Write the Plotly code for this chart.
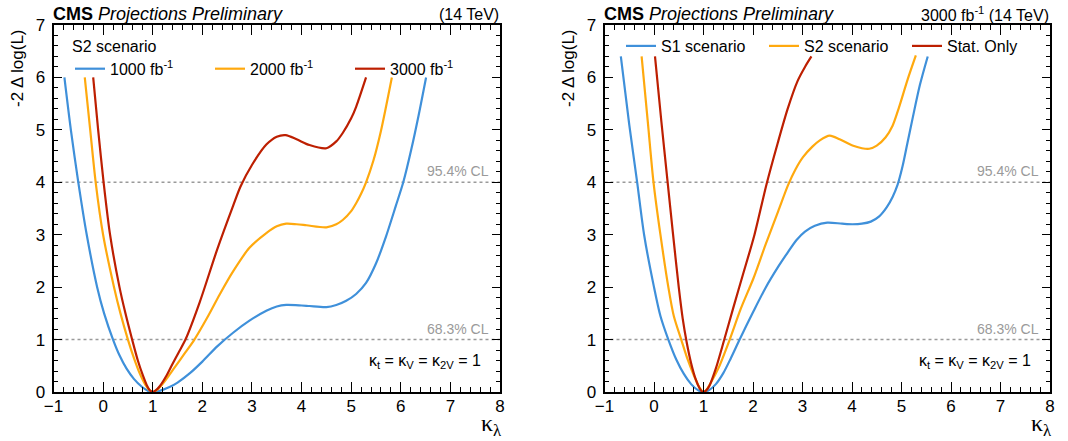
import plotly.graph_objects as go

FONT = "Liberation Sans, Arial, Helvetica, sans-serif"
SERIF = "Liberation Serif, Times New Roman, serif"
BLUE, ORANGE, RED = "#3f90da", "#ffa90e", "#bd1f01"
W, H = 1068, 441

# ---------------- data: left panel (S2 scenario, luminosity scan) ----------------
lumi_labels = ["1000 fb<sup>-1</sup>", "2000 fb<sup>-1</sup>", "3000 fb<sup>-1</sup>"]

k_1000 = [-0.78, -0.65, -0.5, -0.33, -0.12, 0.02, 0.2, 0.33, 0.47, 0.62, 0.78, 0.9, 1.0,
          1.1, 1.2, 1.35, 1.5, 1.75, 2.0, 2.3, 2.62, 2.95, 3.29, 3.5, 3.69, 4.0, 4.16, 4.5,
          4.7, 4.9, 5.1, 5.3, 5.5, 5.7, 5.9, 6.05, 6.21, 6.36, 6.51]
nll_1000 = [6.0, 5.0, 4.0, 3.0, 2.0, 1.5, 1.0, 0.7, 0.45, 0.25, 0.1, 0.025, 0.0,
            0.01, 0.04, 0.1, 0.18, 0.36, 0.58, 0.87, 1.13, 1.36, 1.55, 1.63, 1.66, 1.65, 1.64, 1.62,
            1.66, 1.74, 1.87, 2.08, 2.45, 2.96, 3.55, 4.0, 4.62, 5.28, 6.0]

k_2000 = [-0.37, -0.26, -0.15, 0.0, 0.22, 0.35, 0.5, 0.62, 0.74, 0.85, 0.93, 1.0,
          1.07, 1.17, 1.3, 1.45, 1.64, 1.84, 2.1, 2.35, 2.62, 2.95, 3.29, 3.5, 3.69, 3.9, 4.1,
          4.5, 4.7, 4.83, 5.0, 5.1, 5.2, 5.3, 5.45, 5.6, 5.82]
nll_2000 = [6.0, 5.0, 4.0, 3.0, 2.0, 1.5, 1.0, 0.65, 0.35, 0.14, 0.04, 0.0,
            0.03, 0.12, 0.28, 0.48, 0.73, 1.0, 1.42, 1.86, 2.3, 2.75, 3.03, 3.16, 3.21, 3.2, 3.18,
            3.14, 3.2, 3.28, 3.45, 3.6, 3.78, 4.0, 4.42, 4.98, 6.0]

k_3000 = [-0.2, -0.1, 0.01, 0.14, 0.33, 0.45, 0.585, 0.7, 0.8, 0.88, 0.94, 1.0,
          1.06, 1.15, 1.27, 1.38, 1.52, 1.66, 1.95, 2.3, 2.62, 2.77, 3.0, 3.29, 3.5, 3.68, 3.9,
          4.16, 4.5, 4.7, 4.83, 5.0, 5.1, 5.3]
nll_3000 = [6.0, 5.0, 4.0, 3.0, 2.0, 1.5, 1.0, 0.6, 0.32, 0.13, 0.035, 0.0,
            0.03, 0.12, 0.3, 0.5, 0.75, 1.0, 1.72, 2.72, 3.55, 3.92, 4.33, 4.72, 4.87, 4.9, 4.82,
            4.71, 4.65, 4.78, 4.94, 5.22, 5.44, 6.0]

# ---------------- data: right panel (3000 fb-1, scenario comparison) ----------------
scen_labels = ["S1 scenario", "S2 scenario", "Stat. Only"]

k_s1 = [-0.67, -0.5, -0.34, -0.2, 0.0, 0.13, 0.29, 0.45, 0.6, 0.75, 0.88, 1.0,
        1.12, 1.25, 1.4, 1.55, 1.73, 2.01, 2.25, 2.51, 2.7, 2.88, 3.05, 3.25, 3.5, 3.8, 4.01,
        4.2, 4.38, 4.55, 4.7, 4.82, 4.92, 5.02, 5.12, 5.22, 5.37, 5.53]
nll_s1 = [6.4, 5.1, 4.0, 3.0, 2.0, 1.45, 1.0, 0.62, 0.35, 0.15, 0.04, 0.0,
          0.04, 0.15, 0.36, 0.64, 1.0, 1.54, 1.98, 2.39, 2.66, 2.9, 3.06, 3.17, 3.23, 3.21, 3.2,
          3.21, 3.25, 3.35, 3.52, 3.72, 3.95, 4.3, 4.75, 5.2, 5.85, 6.4]

k_s2 = [-0.25, -0.12, -0.01, 0.13, 0.29, 0.4, 0.55, 0.68, 0.8, 0.9, 0.96, 1.0,
        1.05, 1.15, 1.3, 1.53, 1.75, 2.01, 2.25, 2.51, 2.71, 2.86, 3.01, 3.2, 3.35, 3.55, 3.75,
        4.01, 4.2, 4.35, 4.5, 4.68, 4.82, 4.95, 5.12, 5.29]
nll_s2 = [6.4, 5.1, 4.0, 3.0, 2.0, 1.45, 1.0, 0.62, 0.33, 0.12, 0.03, 0.0,
          0.03, 0.18, 0.45, 1.0, 1.58, 2.17, 2.8, 3.45, 3.95, 4.25, 4.48, 4.68, 4.8, 4.89, 4.82,
          4.7, 4.65, 4.64, 4.7, 4.86, 5.08, 5.43, 5.95, 6.42]

k_stat = [0.02, 0.15, 0.27, 0.38, 0.5, 0.58, 0.66, 0.75, 0.84, 0.92, 0.96, 1.0,
          1.05, 1.12, 1.25, 1.42, 1.6, 1.8, 2.03, 2.27, 2.5, 2.7, 2.9, 3.05, 3.18]
nll_stat = [6.4, 5.15, 4.05, 3.05, 2.0, 1.4, 0.95, 0.55, 0.25, 0.07, 0.018, 0.0,
            0.025, 0.12, 0.45, 1.0, 1.6, 2.25, 3.0, 3.95, 4.75, 5.4, 5.93, 6.2, 6.4]

cl_levels = [1, 4]
cl_labels = ["68.3% CL", "95.4% CL"]
x_range = [-1, 8]
y_range = [0, 7]

# ---------------- figure ----------------
fig = go.Figure()

left = [(k_1000, nll_1000, BLUE), (k_2000, nll_2000, ORANGE), (k_3000, nll_3000, RED)]
for (k, v, c), name in zip(left, lumi_labels):
    fig.add_trace(go.Scatter(x=k, y=v, mode="lines", name=name, legend="legend",
                             line=dict(color=c, width=2.2, shape="spline", smoothing=0.8),
                             xaxis="x", yaxis="y", hoverinfo="skip"))

right = [(k_s1, nll_s1, BLUE), (k_s2, nll_s2, ORANGE), (k_stat, nll_stat, RED)]
for (k, v, c), name in zip(right, scen_labels):
    fig.add_trace(go.Scatter(x=k, y=v, mode="lines", name=name, legend="legend2",
                             line=dict(color=c, width=2.2, shape="spline", smoothing=0.8),
                             xaxis="x2", yaxis="y2", hoverinfo="skip"))

def px_x(p):
    return p / W

def px_y(p):
    return 1 - p / H

ydom = [px_y(392), px_y(25)]
xdom1 = [px_x(53.5), px_x(500)]
xdom2 = [px_x(604.5), px_x(1050)]

def xaxis(domain, anchor):
    return dict(domain=domain, anchor=anchor, range=x_range, tick0=-1, dtick=1,
                ticks="inside", ticklen=10, tickwidth=1.4, tickcolor="black",
                showline=True, linewidth=2, linecolor="black", mirror="allticks",
                showgrid=False, zeroline=False, automargin=False, ticklabelstandoff=-2,
                minor=dict(dtick=0.2, ticks="inside", ticklen=5, tickwidth=1.2,
                           tickcolor="black", showgrid=False),
                tickfont=dict(family=FONT, size=17, color="black"), fixedrange=True)

def yaxis(anchor):
    return dict(domain=ydom, anchor=anchor, range=y_range, tick0=0, dtick=1,
                ticks="inside", ticklen=8, tickwidth=1.4, tickcolor="black",
                showline=True, linewidth=2, linecolor="black", mirror="allticks",
                showgrid=False, zeroline=False, automargin=False, ticklabelstandoff=3,
                minor=dict(dtick=0.2, ticks="inside", ticklen=4, tickwidth=1.2,
                           tickcolor="black", showgrid=False),
                tickfont=dict(family=FONT, size=17, color="black"), fixedrange=True)

shapes = []
annotations = []
for xr, yr in [("x", "y"), ("x2", "y2")]:
    for lvl, lab in zip(cl_levels, cl_labels):
        shapes.append(dict(type="line", xref=xr, yref=yr, x0=x_range[0], x1=x_range[1],
                           y0=lvl, y1=lvl, line=dict(color="#9a9a9a", width=1.4, dash="dot"),
                           layer="below"))
        annotations.append(dict(xref=xr, yref=yr, x=7.82, y=lvl + 0.02, xanchor="right",
                                yanchor="bottom", text=lab, showarrow=False,
                                font=dict(family=FONT, size=14, color="#9a9a9a")))
    annotations.append(dict(xref=xr, yref=yr, x=7.65, y=0.58, xanchor="right", yanchor="middle",
                            text="κ<sub>t</sub> = κ<sub>V</sub> = κ<sub>2V</sub> = 1",
                            showarrow=False, font=dict(family=FONT, size=16, color="black")))

for x0, x1, right_txt in [(53, 500, "(14 TeV)"), (604, 1050, "3000 fb<sup>-1</sup> (14 TeV)")]:
    annotations.append(dict(xref="paper", yref="paper", x=px_x(x0 - 2), y=px_y(14),
                            xanchor="left", yanchor="middle",
                            text="<b>CMS</b> <i>Projections Preliminary</i>", showarrow=False,
                            font=dict(family=FONT, size=18, color="black")))
    annotations.append(dict(xref="paper", yref="paper", x=px_x(x1 + 1), y=px_y(14),
                            xanchor="right", yanchor="middle", text=right_txt, showarrow=False,
                            font=dict(family=FONT, size=16, color="black")))
    # y title
    annotations.append(dict(xref="paper", yref="paper", x=px_x(x0 - 35), y=px_y(27),
                            xanchor="center", yanchor="top", textangle=-90,
                            text="-2 Δ log(L)", showarrow=False,
                            font=dict(family=FONT, size=17, color="black")))
    # x title
    annotations.append(dict(xref="paper", yref="paper", x=px_x(x1 - 9), y=px_y(425),
                            xanchor="center", yanchor="middle",
                            text="κ<sub>λ</sub>", showarrow=False,
                            font=dict(family=SERIF, size=24, color="black")))

legend_common = dict(orientation="h", xanchor="left", yanchor="top", bgcolor="rgba(0,0,0,0)",
                     borderwidth=0, font=dict(family=FONT, size=16, color="black"),
                     entrywidthmode="pixels", itemclick=False, itemdoubleclick=False)

fig.update_layout(
    width=W, height=H,
    margin=dict(l=0, r=0, t=0, b=0),
    paper_bgcolor="white", plot_bgcolor="white",
    xaxis=xaxis(xdom1, "y"), yaxis=yaxis("x"),
    xaxis2=xaxis(xdom2, "y2"), yaxis2=yaxis("x2"),
    shapes=shapes, annotations=annotations,
    legend=dict(**legend_common, x=px_x(70), y=px_y(31), entrywidth=95,
                title=dict(text="S2 scenario", side="top",
                           font=dict(family=FONT, size=16, color="black"))),
    legend2=dict(**legend_common, x=px_x(621), y=px_y(29), entrywidth=98),
    showlegend=True,
    font=dict(family=FONT),
)

fig.write_html("out.html", config={"displayModeBar": False})
